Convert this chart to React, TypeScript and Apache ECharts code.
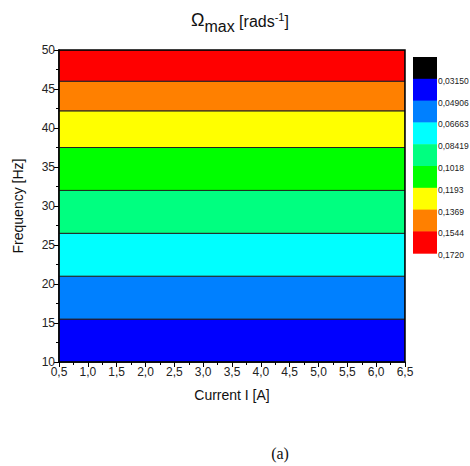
import React, { useEffect, useRef } from "react";
import * as echarts from "echarts";

const xMin = 0.5;
const xMax = 6.5;
const yMin = 10;
const yMax = 50;
const bandLows = [10, 15.5, 21, 26.5, 32, 37.5, 42.2, 46];
const bandHighs = [15.5, 21, 26.5, 32, 37.5, 42.2, 46, 50];
const bandColors = ["#0000FF", "#0080FF", "#00FFFF", "#00FF80", "#00FF00", "#FFFF00", "#FF8000", "#FF0000"];
const scaleColors = ["#000000", "#0000FF", "#0080FF", "#00FFFF", "#00FF80", "#00FF00", "#FFFF00", "#FF8000", "#FF0000"];
const scaleLabels = ["0,03150", "0,04906", "0,06663", "0,08419", "0,1018", "0,1193", "0,1369", "0,1544", "0,1720"];

const FONT = "'Liberation Sans', Arial, sans-serif";

export default function App() {
  const ref = useRef<HTMLDivElement>(null);
  useEffect(() => {
    const chart = echarts.init(ref.current!, null, { renderer: "svg" });
    const barTop = 57;
    const barStep = 21.8;
    const barX = 413;
    const barW = 24;
    const graphics: any[] = [];
    scaleColors.forEach((c, i) => {
      graphics.push({
        type: "rect",
        shape: { x: barX, y: barTop + i * barStep, width: barW, height: barStep + 0.5 },
        style: { fill: c },
      });
    });
    scaleLabels.forEach((t, i) => {
      graphics.push({
        type: "text",
        x: barX + barW + 1,
        y: barTop + (i + 1) * barStep + 2,
        style: { text: t, fontSize: 8.5, fontFamily: FONT, fill: "#222", verticalAlign: "middle", align: "left" },
      });
    });
    graphics.push({
      type: "rect",
      z: 100,
      shape: { x: 59, y: 50, width: 346, height: 312 },
      style: { fill: "none", stroke: "#000", lineWidth: 1.5 },
    });
    graphics.push({
      type: "text",
      x: 280,
      y: 453,
      style: { text: "(a)", fontSize: 16, fontFamily: "'Liberation Serif', 'Times New Roman', serif", fill: "#111", align: "center", verticalAlign: "middle" },
    });

    chart.setOption({
      animation: false,
      backgroundColor: "#fff",
      title: {
        left: 186,
        top: 6,
        text: "{o|Ω}{sub|max}{n| [rads}{sup|-1}{n|]}",
        textStyle: {
          fontWeight: "normal",
          rich: {
            o: { fontSize: 18, fontWeight: "normal", fontFamily: FONT, color: "#111", padding: [0, 0, 5, 0], verticalAlign: "bottom" },
            sub: { fontSize: 16, fontWeight: "normal", fontFamily: FONT, color: "#111", padding: [0, 0, 0, 0], verticalAlign: "bottom" },
            n: { fontSize: 16, fontWeight: "normal", fontFamily: FONT, color: "#111", padding: [0, 0, 5, 0], verticalAlign: "bottom" },
            sup: { fontSize: 11, fontWeight: "normal", fontFamily: FONT, color: "#111", padding: [0, 0, 12, 0], verticalAlign: "bottom" },
          },
        },
      },
      grid: { left: 59, right: 65, top: 50, bottom: 104, show: false },
      xAxis: {
        type: "value",
        min: xMin,
        max: xMax,
        interval: 0.5,
        name: "Current I [A]",
        nameLocation: "middle",
        nameGap: 26,
        nameTextStyle: { fontSize: 14, fontFamily: FONT, color: "#111" },
        axisLine: { show: true, lineStyle: { color: "#000", width: 1.5 } },
        axisTick: { show: true, inside: false, length: 5, lineStyle: { color: "#000" } },
        minorTick: { show: true, splitNumber: 2, length: 3, lineStyle: { color: "#000" } },
        splitLine: { show: false },
        axisLabel: {
          fontSize: 12,
          fontFamily: FONT,
          color: "#222",
          margin: 4,
          formatter: (v: number) => v.toFixed(1).replace(".", ","),
        },
      },
      yAxis: {
        type: "value",
        min: yMin,
        max: yMax,
        interval: 5,
        name: "Frequency [Hz]",
        nameLocation: "middle",
        nameGap: 34,
        nameTextStyle: { fontSize: 14, fontFamily: FONT, color: "#111" },
        axisLine: { show: true, lineStyle: { color: "#000", width: 1.5 } },
        axisTick: { show: true, inside: false, length: 5, lineStyle: { color: "#000" } },
        minorTick: { show: true, splitNumber: 2, length: 3, lineStyle: { color: "#000" } },
        splitLine: { show: false },
        axisLabel: { fontSize: 12, fontFamily: FONT, color: "#222", margin: 4 },
      },
      graphic: graphics,
      series: [
        {
          type: "custom",
          clip: true,
          encode: { x: -1, y: [0, 1] },
          data: bandLows.map((lo, i) => [lo, bandHighs[i]]),
          renderItem: (params: any, api: any) => {
            const p0 = api.coord([xMin, api.value(1)]);
            const p1 = api.coord([xMax, api.value(0)]);
            return {
              type: "rect",
              shape: { x: p0[0], y: p0[1], width: p1[0] - p0[0], height: p1[1] - p0[1] },
              style: { fill: bandColors[params.dataIndex], stroke: "#222", lineWidth: 1 },
            };
          },
        },
      ],
    });
    return () => chart.dispose();
  }, []);
  return (
    <div
      ref={ref}
      style={{ position: "absolute", left: 0, top: 0, width: 470, height: 466 }}
    />
  );
}
